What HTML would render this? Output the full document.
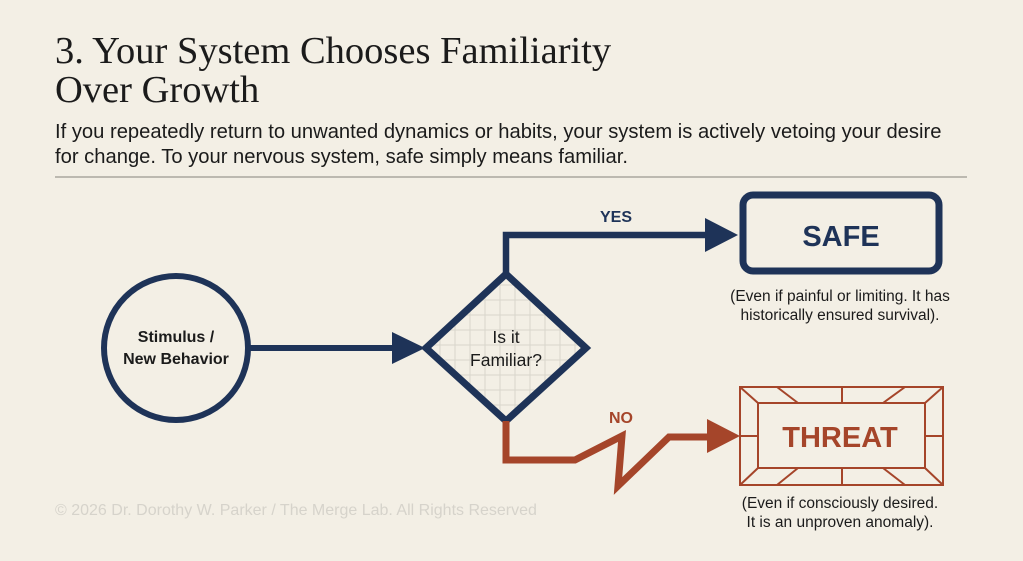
<!DOCTYPE html>
<html><head><meta charset="utf-8"><style>
html,body{margin:0;padding:0;background:#f3efe5;}
body{width:1023px;height:556px;overflow:hidden;}
</style></head><body>
<svg width="1023" height="556" viewBox="0 0 1023 556" xmlns="http://www.w3.org/2000/svg">
<rect width="1023" height="556" fill="#f3efe5"/>
<g font-family="Liberation Serif, serif" font-size="38.5" fill="#1b1b1b">
<text x="55" y="63">3. Your System Chooses Familiarity</text>
<text x="55" y="102">Over Growth</text>
</g>
<g font-family="Liberation Sans, sans-serif" font-size="20.2" fill="#1b1b1b">
<text x="55" y="138">If you repeatedly return to unwanted dynamics or habits, your system is actively vetoing your desire</text>
<text x="55" y="163">for change. To your nervous system, safe simply means familiar.</text>
</g>
<line x1="55" y1="177" x2="967" y2="177" stroke="#a9a79e" stroke-width="1.5"/>
<text x="55" y="515" font-family="Liberation Sans, sans-serif" font-size="16" fill="#d6d3cb">© 2026 Dr. Dorothy W. Parker / The Merge Lab. All Rights Reserved</text>
<circle cx="176" cy="348" r="72" fill="none" stroke="#1e3358" stroke-width="6"/>
<g font-family="Liberation Sans, sans-serif" font-weight="bold" font-size="16" fill="#1b1b1b" text-anchor="middle">
<text x="176" y="342">Stimulus /</text>
<text x="176" y="364">New Behavior</text>
</g>
<line x1="250" y1="348" x2="396" y2="348" stroke="#1e3358" stroke-width="6"/>
<polygon points="392,332 425,348 392,364" fill="#1e3358"/>
<defs><clipPath id="dc"><polygon points="426,348 506,274 586,348 506,421"/></clipPath></defs>
<g clip-path="url(#dc)" stroke="#d8d6cc" stroke-width="1">
<path d="M440 270V430M455 270V430M470 270V430M485 270V430M500 270V430M515 270V430M530 270V430M545 270V430M560 270V430M575 270V430M420 285H590M420 300H590M420 315H590M420 330H590M420 345H590M420 360H590M420 375H590M420 390H590M420 405H590"/>
</g>
<polygon points="426,348 506,274 586,348 506,421" fill="none" stroke="#1e3358" stroke-width="7" stroke-linejoin="miter"/>
<g font-family="Liberation Sans, sans-serif" font-size="17.5" fill="#1b1b1b" text-anchor="middle">
<text x="506" y="343">Is it</text>
<text x="506" y="366">Familiar?</text>
</g>
<polyline points="506,274 506,235 708,235" fill="none" stroke="#1e3358" stroke-width="6.5"/>
<polygon points="705,218 738,235 705,252" fill="#1e3358"/>
<text x="616" y="222" font-family="Liberation Sans, sans-serif" font-weight="bold" font-size="16" fill="#1e3358" text-anchor="middle">YES</text>
<rect x="743" y="195" width="196" height="76" rx="10" fill="none" stroke="#1e3358" stroke-width="7"/>
<text x="841" y="246" font-family="Liberation Sans, sans-serif" font-weight="bold" font-size="29" fill="#1e3358" text-anchor="middle">SAFE</text>
<g font-family="Liberation Sans, sans-serif" font-size="15.5" fill="#1b1b1b" text-anchor="middle">
<text x="840" y="301">(Even if painful or limiting. It has</text>
<text x="840" y="320">historically ensured survival).</text>
</g>
<polyline points="506,421 506,460 575,460 622,436 618,486 669,437 710,437" fill="none" stroke="#a5452a" stroke-width="7" stroke-linejoin="miter"/>
<polygon points="707,419 740,436 707,453" fill="#a5452a"/>
<text x="621" y="423" font-family="Liberation Sans, sans-serif" font-weight="bold" font-size="16" fill="#a5452a" text-anchor="middle">NO</text>
<g fill="none" stroke="#a5452a" stroke-width="2">
<rect x="740" y="387" width="203" height="98"/>
<rect x="758" y="403" width="167" height="65"/>
<path d="M740 387L758 403M943 387L925 403M740 485L758 468M943 485L925 468M842 387V403M842 468V485M740 436H758M925 436H943M777 387L798 403M905 387L883 403M777 485L798 468M905 485L883 468"/>
</g>
<text x="840" y="447" font-family="Liberation Sans, sans-serif" font-weight="bold" font-size="29" fill="#a5452a" text-anchor="middle">THREAT</text>
<g font-family="Liberation Sans, sans-serif" font-size="15.5" fill="#1b1b1b" text-anchor="middle">
<text x="840" y="508">(Even if consciously desired.</text>
<text x="840" y="527">It is an unproven anomaly).</text>
</g>
</svg>
</body></html>
